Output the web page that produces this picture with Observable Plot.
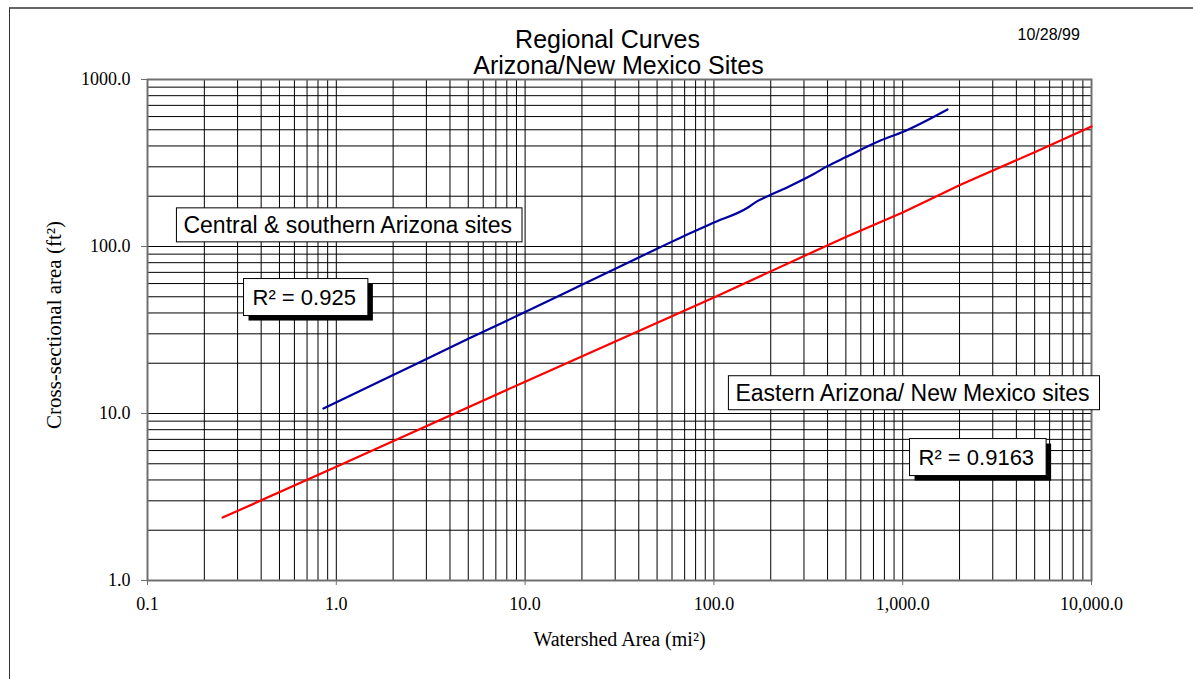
<!DOCTYPE html>
<html>
<head>
<meta charset="utf-8">
<script src="https://cdn.jsdelivr.net/npm/d3@7"></script>
<script src="https://cdn.jsdelivr.net/npm/@observablehq/plot@0.6"></script>
<style>
  html, body { margin: 0; padding: 0; background: #fff; }
  #page { position: relative; width: 1193px; height: 679px; overflow: hidden; }
  #chart { position: absolute; left: 0; top: 0; }
  /* sheet edge of the printed page */
  #sheet { position: absolute; left: 9px; top: 7px; width: 1300px; height: 800px;
           border-left: 1.5px solid #333; border-top: 2px solid #666; pointer-events: none; }
</style>
</head>
<body>
<div id="page"><div id="chart"></div><div id="sheet"></div></div>
<script>
// Regional curves: cross-sectional area vs. watershed area (log–log)

// Central & southern Arizona sites (blue curve)
const centralArea = [0.855, 2, 5, 10, 20, 50, 66.5, 100, 150, 170, 191, 250, 338, 398, 500, 763, 1000, 1727];
const centralXsec = [10.7, 17, 28, 40.5, 59, 97, 113, 139, 170, 187, 199, 229, 272, 302, 343, 431, 485, 662];

// Eastern Arizona / New Mexico sites (red curve)
const easternArea = [0.25, 1, 10, 100, 398, 500, 1000, 2023, 5000, 10000];
const easternXsec = [2.38, 4.8, 15.5, 49.5, 101.5, 114, 160, 234, 367, 523];

// Labelled axis ticks
const xMajor = [0.1, 1, 10, 100, 1000, 10000];
const yMajor = [1, 10, 100, 1000];

// Boxed annotations (anchored in data units)
const noteText = ["Central & southern Arizona sites", "Eastern Arizona/ New Mexico sites"];
const noteX = [0.155, 130];
const noteY = [133.6, 13.2];
const r2Text = ["R² = 0.925", "R² = 0.9163"];
const r2X = [0.36, 1213];
const r2Y = [49.5, 5.45];

const centralRows = centralArea.map((x, i) => ({x, y: centralXsec[i]}));
const easternRows = easternArea.map((x, i) => ({x, y: easternXsec[i]}));
const notes = noteText.map((text, i) => ({text, x: noteX[i], y: noteY[i]}));
const r2Notes = r2Text.map((text, i) => ({text, x: r2X[i], y: r2Y[i]}));

const serif = "'Liberation Serif', 'Times New Roman', serif";
const sans = "'Liberation Sans', Arial, sans-serif";

const chart = Plot.plot({
  width: 1193,
  height: 679,
  marginLeft: 147,
  marginRight: 102,
  marginTop: 79,
  marginBottom: 99,
  style: {background: "white", color: "black", overflow: "visible"},
  x: {type: "log", domain: [0.1, 10000]},
  y: {type: "log", domain: [1, 1000]},
  marks: [
    Plot.gridX({ticks: 50, stroke: "#000", strokeOpacity: 1, strokeWidth: 1}),
    Plot.gridY({ticks: 50, stroke: "#000", strokeOpacity: 1, strokeWidth: 1}),
    Plot.frame({stroke: "#707070", strokeWidth: 2}),
    Plot.axisX({ticks: xMajor, tickFormat: d3.format(",.1f"), tickSize: 5, tickPadding: 12,
                stroke: "#707070", fill: "black", fontSize: 18, fontFamily: serif, label: null}),
    Plot.axisY({ticks: yMajor, tickFormat: d => d.toFixed(1), tickSize: 6, tickPadding: 11,
                stroke: "#707070", fill: "black", fontSize: 18, fontFamily: serif, label: null}),
    Plot.line(centralRows, {x: "x", y: "y", stroke: "#0000a0", strokeWidth: 2.2, curve: "monotone-x"}),
    Plot.line(easternRows, {x: "x", y: "y", stroke: "#ff0000", strokeWidth: 2.2}),
    Plot.text(notes, {x: "x", y: "y", text: "text", textAnchor: "start", lineAnchor: "middle",
                      fontSize: 23, fontFamily: sans, fill: "black", className: "note-plain"}),
    Plot.text(r2Notes, {x: "x", y: "y", text: "text", textAnchor: "start", lineAnchor: "middle",
                        fontSize: 22, fontFamily: sans, fill: "black", className: "note-shadow"}),
    // titles and axis labels
    Plot.text(["Regional Curves"], {frameAnchor: "top", dx: -12, dy: -32, lineAnchor: "bottom",
                                    fontSize: 25, fontFamily: sans, fill: "black"}),
    Plot.text(["Arizona/New Mexico Sites"], {frameAnchor: "top", dx: -1, dy: -6, lineAnchor: "bottom",
                                    fontSize: 25, fontFamily: sans, fill: "black"}),
    Plot.text(["10/28/99"], {frameAnchor: "top-right", dx: -74, dy: -40, textAnchor: "start",
                             lineAnchor: "bottom", fontSize: 16, fontFamily: sans, fill: "black"}),
    Plot.text(["Cross-sectional area (ft²)"], {frameAnchor: "left", rotate: -90, dx: -93, dy: -5,
                             textAnchor: "middle", lineAnchor: "middle",
                             fontSize: 21, fontFamily: serif, fill: "black"}),
    Plot.text(["Watershed Area (mi²)"], {frameAnchor: "bottom", dy: 65, lineAnchor: "bottom",
                             textAnchor: "middle", fontSize: 20, fontFamily: serif, fill: "black"})
  ]
});

document.getElementById("chart").append(chart);

// Draw the white label boxes (with an optional drop shadow) behind annotation text
const svgNS = "http://www.w3.org/2000/svg";
function boxText(cls, padL, padR, padY, shadow) {
  d3.select(chart).selectAll(`g.${cls} text`).each(function () {
    const b = this.getBBox();
    const g = this.parentNode;
    const t = this.getAttribute("transform");
    const x = b.x - padL, y = b.y - padY, w = b.width + padL + padR, h = b.height + 2 * padY;
    if (shadow) {
      const s = document.createElementNS(svgNS, "rect");
      s.setAttribute("x", x + 5); s.setAttribute("y", y + 5);
      s.setAttribute("width", w); s.setAttribute("height", h);
      s.setAttribute("fill", "black"); s.setAttribute("stroke", "none");
      if (t) s.setAttribute("transform", t);
      g.insertBefore(s, this);
    }
    const r = document.createElementNS(svgNS, "rect");
    r.setAttribute("x", x); r.setAttribute("y", y);
    r.setAttribute("width", w); r.setAttribute("height", h);
    r.setAttribute("fill", "white"); r.setAttribute("stroke", "black"); r.setAttribute("stroke-width", 1);
    if (t) r.setAttribute("transform", t);
    g.insertBefore(r, this);
  });
}
boxText("note-plain", 7, 10, 4, false);
boxText("note-shadow", 9, 12, 6, true);
</script>
</body>
</html>
